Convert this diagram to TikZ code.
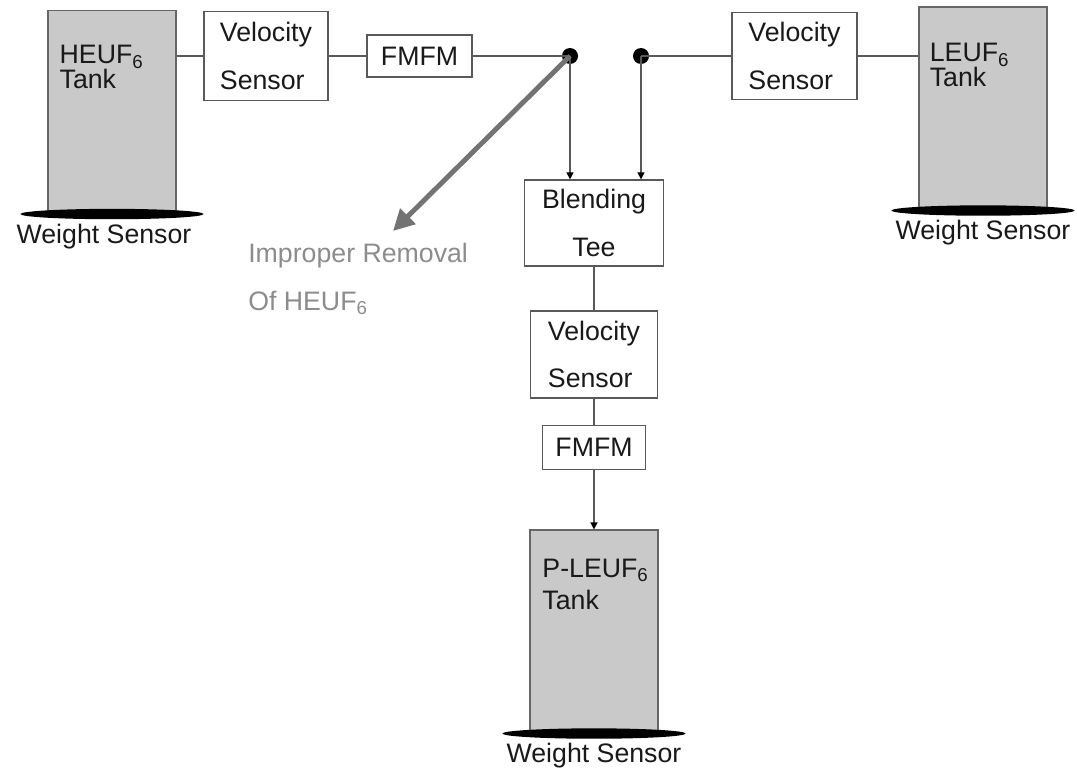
\documentclass[tikz,border=0pt]{standalone}
\usepackage{fontspec}
\setmainfont{Liberation Sans}
\usetikzlibrary{arrows.meta}

\begin{document}
\begin{tikzpicture}[color=black, >={Triangle[length=5pt,width=5pt,color=black]},
    every node/.style={font=\fontsize{19}{34}\selectfont, text=black!90},
    pipe/.style={draw=black!65, line width=0.9pt},
    unit/.style={draw=black!65, line width=0.9pt, fill=white, align=left, inner sep=0pt},
    tank/.style={draw=black!60, line width=0.9pt, fill=black!21, inner sep=0pt,
      minimum width=3.2cm, minimum height=5.02cm},
    tanktext/.style={anchor=base west, align=left, inner sep=0pt,
      font=\fontsize{19}{17.8}\selectfont},
    scaletext/.style={anchor=base, inner sep=0pt}]
  \useasboundingbox (0,0) rectangle (26.925,-19.225);
  % Supply tanks and the product tank
  \node[tank] (heuf)  at (2.8,-2.775) {};
  \node[tank] (leuf)  at (24.575,-2.6875) {};
  \node[tank] (pleuf) at (14.85,-15.7625) {};
  % (base = last line of the label)
  \node[tanktext] (heuflbl)  at ([shift={(0.3,-1.975)}]heuf.north west)  {HEUF\textsubscript{6}\\Tank};
  \node[tanktext] (leuflbl)  at ([shift={(0.28,-2.0)}]leuf.north west)  {LEUF\textsubscript{6}\\Tank};
  \node[tanktext, font=\fontsize{19}{23}\selectfont] (pleuflbl) at ([shift={(0.32,-2.0)}]pleuf.north west) {P-LEUF\textsubscript{6}\\Tank};
  % Weight sensors under the tanks
  \foreach \t/\dx in {heuf/-0.2, leuf/0, pleuf/0} {
    \fill[black] ([yshift=-0.05cm]\t.south) ellipse [x radius=2.29, y radius=0.13];
    \node[scaletext] (\t ws) at ([shift={(\dx,-0.78)}]\t.south) {Weight Sensor};
  }
  % Line units
  \node[unit, minimum width=3.1cm,   minimum height=2.225cm] (vsl)   at (6.65,-1.4)     {Velocity\\Sensor};
  \node[unit, minimum width=2.625cm, minimum height=1.05cm]  (fml)   at (10.4875,-1.4)  {FMFM};
  \node[unit, minimum width=3.125cm, minimum height=2.175cm] (vsr)   at (19.8625,-1.4)  {Velocity\\Sensor};
  \node[unit, minimum width=3.475cm, minimum height=2.15cm, align=center] (blend) at (14.85,-5.575) {Blending\\Tee};
  \node[unit, minimum width=3.175cm, minimum height=2.175cm] (vsm)   at (14.85,-8.8625) {Velocity\\Sensor};
  \node[unit, minimum width=2.575cm, minimum height=1.1cm]   (fmm)   at (14.85,-11.1875) {FMFM};
  % Junction points
  \coordinate (jl) at (14.25,-1.4);
  \coordinate (jr) at (16.025,-1.4);
  \coordinate (leak) at (9.825,-5.775);
  \fill (jl) circle (0.2);
  \fill (jr) circle (0.2);
  % Piping
  \draw[pipe] (vsl.west -| heuf.east) -- (vsl.west);
  \draw[pipe] (vsl.east) -- (fml.west);
  \draw[pipe] (fml.east) -- (jl);
  \draw[pipe] (jr) -- (vsr.west);
  \draw[pipe] (vsr.east) -- (vsr.east -| leuf.west);
  \draw[pipe, ->] (jl) -- (jl |- blend.north);
  \draw[pipe, ->] (jr) -- (jr |- blend.north);
  \draw[pipe] (blend) -- (vsm);
  \draw[pipe] (vsm) -- (fmm);
  \draw[pipe, ->] (fmm) -- (pleuf);
  % Diversion path
  \draw[draw=black!55, line width=3.5pt, -{Triangle[length=15pt,width=15pt]}] (jl) -- (leak);
  \node[anchor=base west, align=left, inner sep=0pt, text=black!45] (divert) at (6.2,-7.75)
    {Improper Removal\\Of HEUF\textsubscript{6}};
\end{tikzpicture}
\end{document}
